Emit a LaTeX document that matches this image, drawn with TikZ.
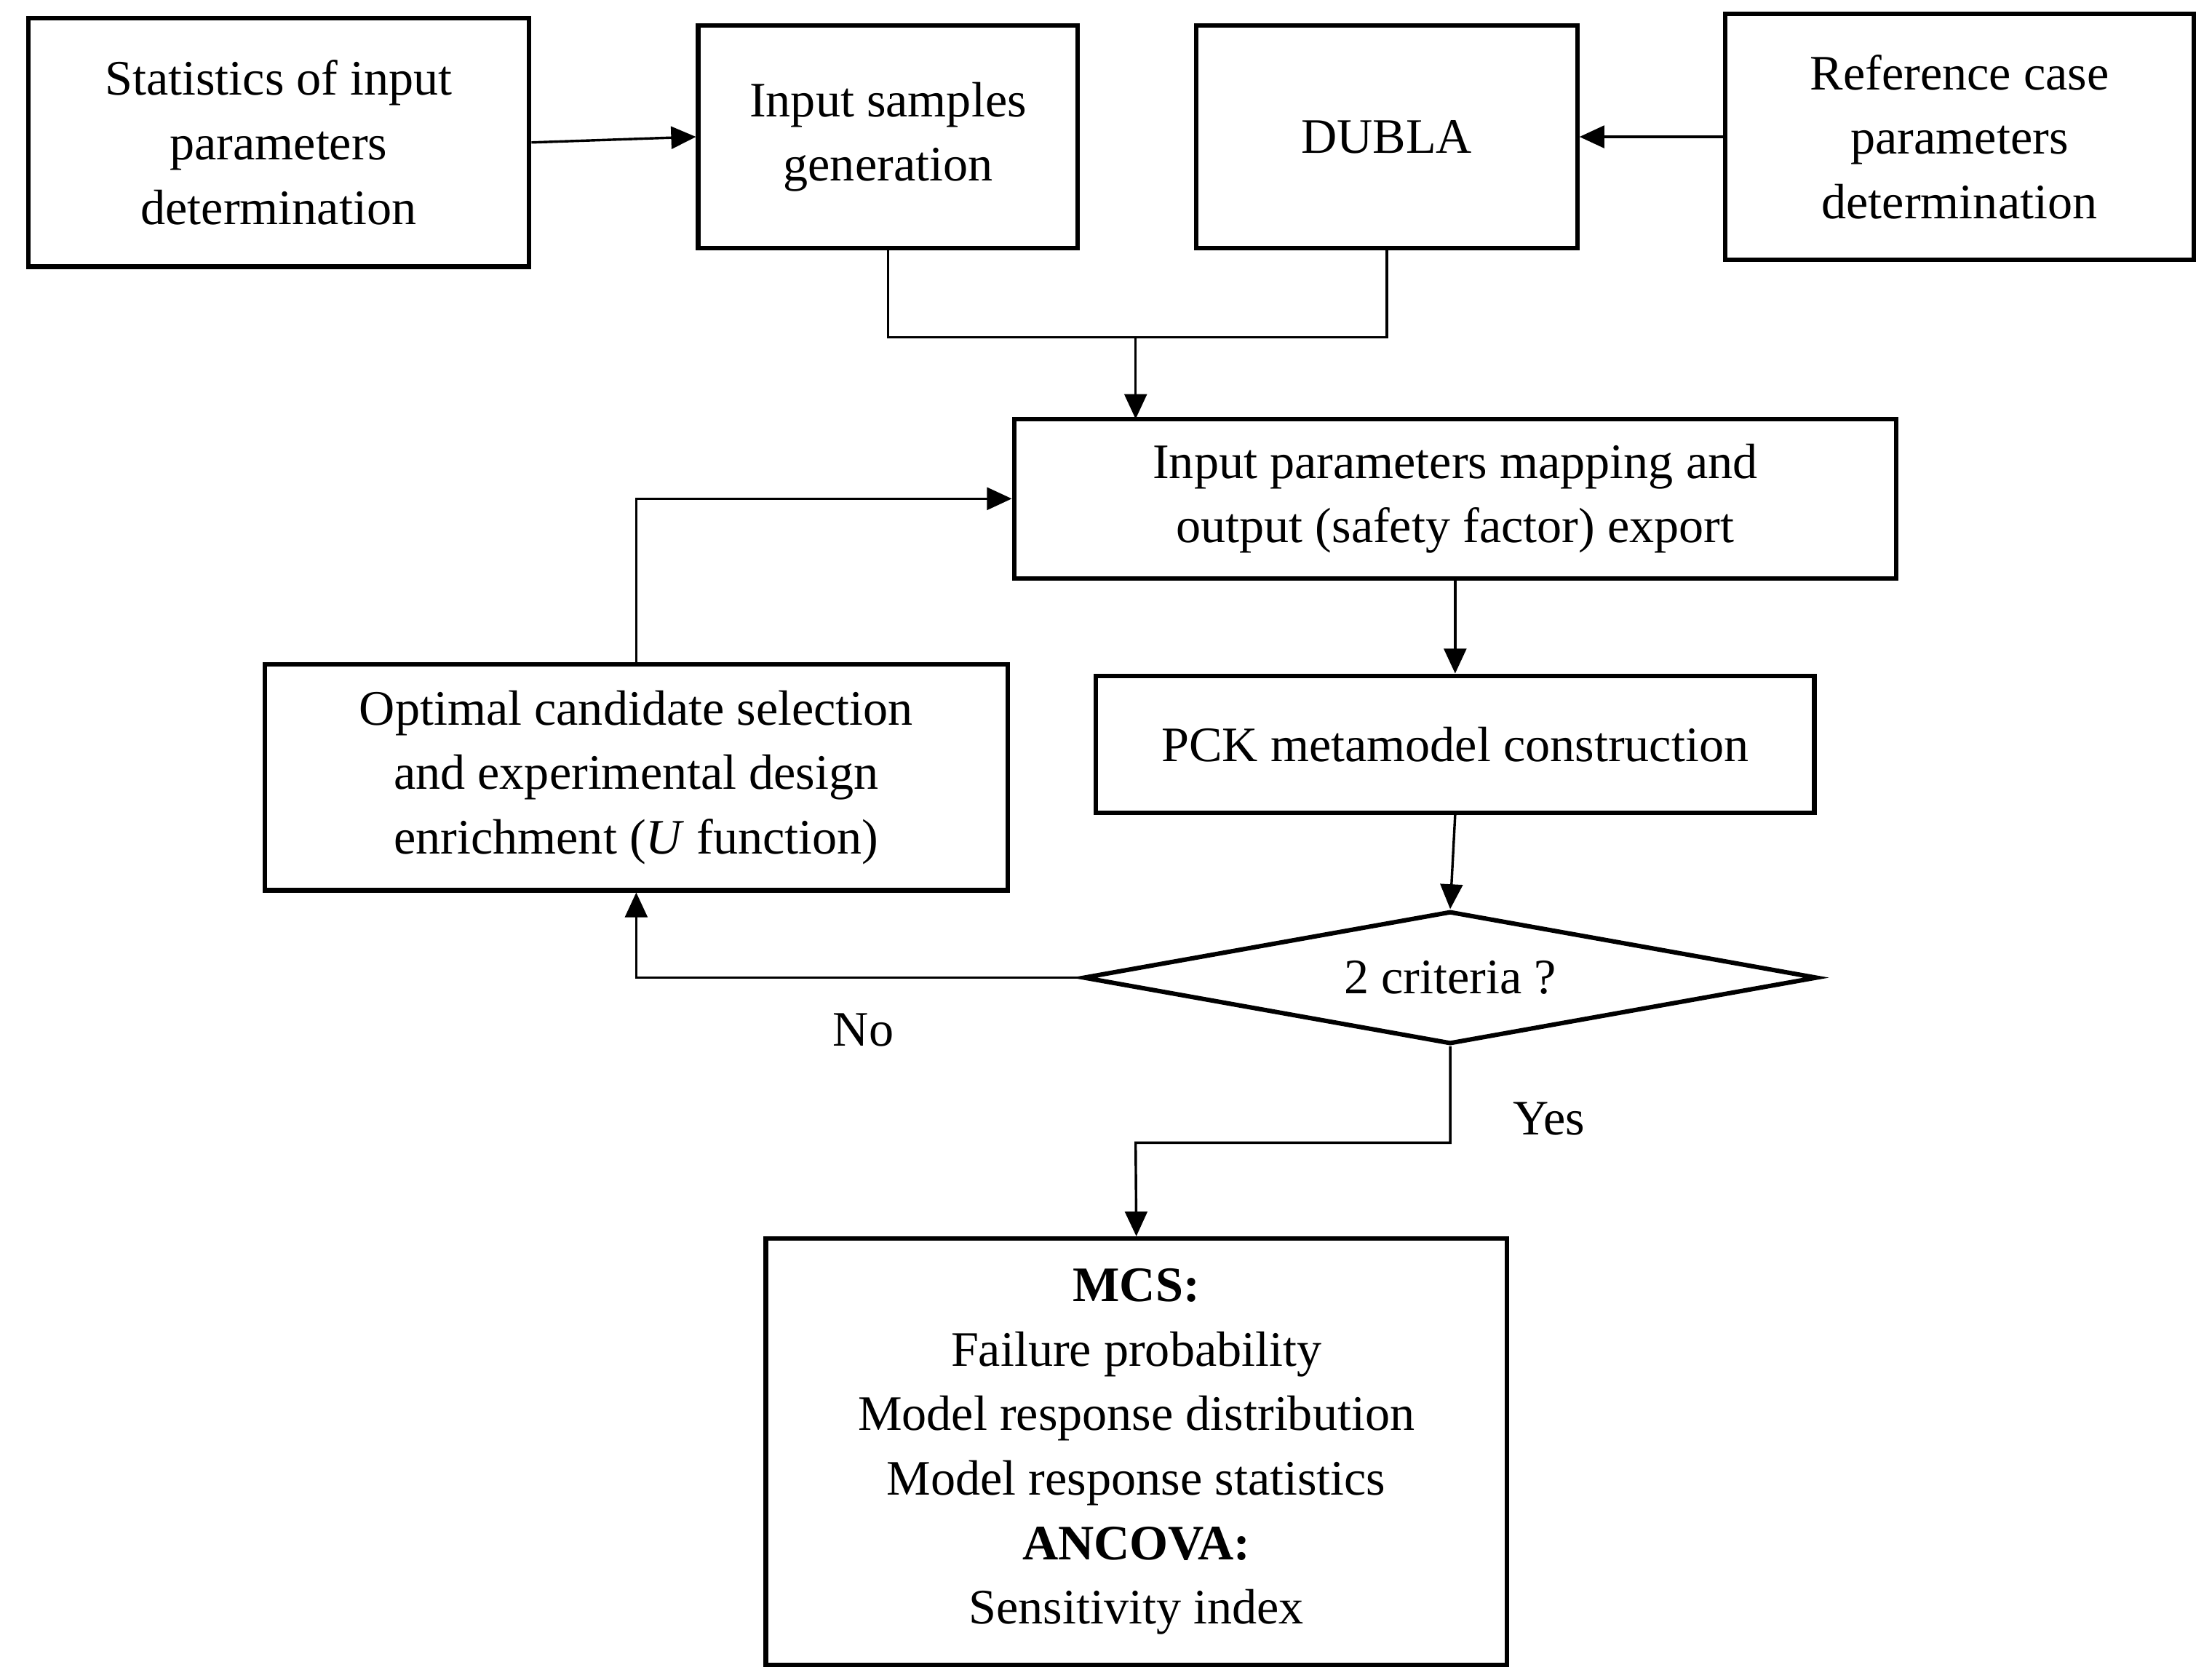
\documentclass[tikz,border=0pt]{standalone}
\usepackage{fontspec}
\setmainfont{Liberation Serif}
\usetikzlibrary{shapes.geometric,arrows.meta}
\begin{document}
\begin{tikzpicture}[x=0.01cm,y=-0.01cm,
  box/.style={draw,line width=0.9pt,align=center,inner sep=0pt,font=\fontsize{10}{13}\selectfont},
  arr/.style={-{Triangle[length=5pt,width=4.5pt]},line width=0.5pt},
  ln/.style={line width=0.5pt},
  lab/.style={font=\fontsize{10}{13}\selectfont}]
\useasboundingbox (0,0) rectangle (1568,1189);
\node[box,minimum width=355\pgflinewidth*0+3.55cm,minimum height=1.76cm] (stat) at (197.5,101) {Statistics of input\\parameters\\determination};
\node[box,minimum width=2.69cm,minimum height=1.58cm] (samp) at (629.5,97) {Input samples\\generation};
\node[box,minimum width=2.70cm,minimum height=1.58cm] (dubla) at (983,97) {DUBLA};
\node[box,minimum width=3.32cm,minimum height=1.74cm] (ref) at (1389,97) {Reference case\\parameters\\determination};
\node[box,minimum width=6.25cm,minimum height=1.13cm] (map) at (1031.5,353.5) {Input parameters mapping and\\output (safety factor) export};
\node[box,minimum width=5.09cm,minimum height=0.97cm] (pck) at (1031.5,527.5) {PCK metamodel construction};
\node[box,minimum width=5.26cm,minimum height=1.60cm] (opt) at (451,551) {Optimal candidate selection\\and experimental design\\enrichment (\textit{U} function)};
\node[box,diamond,aspect=5.5,minimum width=5.2cm,minimum height=0.94cm] (dia) at (1028,693) {2 criteria ?};
\node[box,minimum width=5.25cm,minimum height=3.02cm] (mcs) at (805.5,1029) {\textbf{MCS:}\\Failure probability\\Model response distribution\\Model response statistics\\\textbf{ANCOVA:}\\Sensitivity index};
\coordinate (j) at (805,239);
\draw[arr] (stat.east) -- (samp.west);
\draw[arr] (ref.west) -- (dubla.east);
\draw[ln] (samp.south) -- (629.5,239) -- (983,239) -- (dubla.south);
\draw[arr] (j) -- (805,297);
\draw[arr] (map.south) -- (pck.north);
\draw[arr] (pck.south) -- (dia.north);
\draw[arr] (dia.west) -- (451,693) -- (opt.south);
\draw[arr] (opt.north) -- (451,353.5) -- (map.west);
\draw[arr] (dia.south) -- (1028,810) -- (805,810) -- (mcs.north);
\node[lab] at (612,730) {No};
\node[lab] at (1098,793) {Yes};
\end{tikzpicture}
\end{document}
